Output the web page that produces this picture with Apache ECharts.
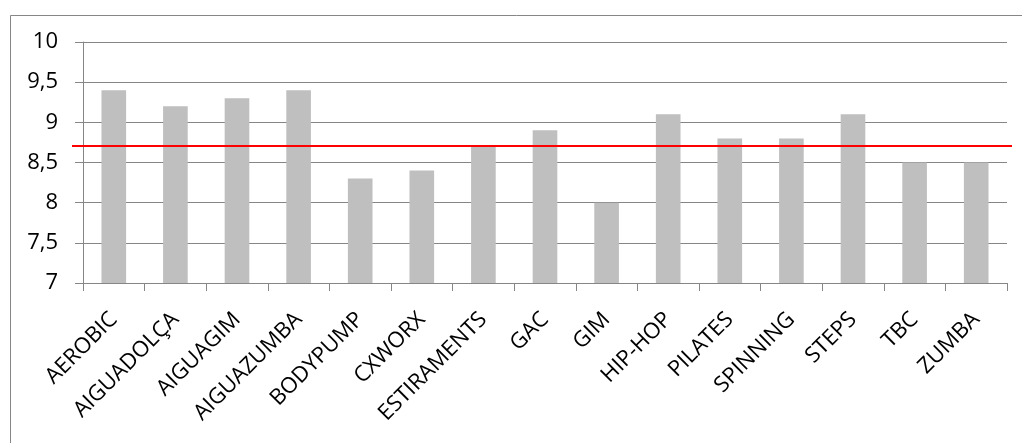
<!DOCTYPE html>
<html>
<head>
<meta charset="utf-8">
<title>Valoració per activitat</title>
<script src="https://cdn.jsdelivr.net/npm/echarts@6/dist/echarts.min.js"></script>
<style>
  html, body { margin: 0; padding: 0; background: #fff; }
  #chart { width: 1022px; height: 443px; }
</style>
</head>
<body>
<div id="chart"></div>
<script>
// Activities and their average ratings
const categories = ['AEROBIC', 'AIGUADOLÇA', 'AIGUAGIM', 'AIGUAZUMBA', 'BODYPUMP', 'CXWORX',
  'ESTIRAMENTS', 'GAC', 'GIM', 'HIP-HOP', 'PILATES', 'SPINNING', 'STEPS', 'TBC', 'ZUMBA'];
const ratings = [9.4, 9.2, 9.3, 9.4, 8.3, 8.4, 8.7, 8.9, 8.0, 9.1, 8.8, 8.8, 9.1, 8.5, 8.5];
// Overall average drawn as a reference line
const overallAverage = 8.71;
// Value axis range
const yMin = 7, yMax = 10, yStep = 0.5;

const FONT = '"Open Sans", "Noto Sans", sans-serif';
const GRID_GRAY = '#868686';

const chart = echarts.init(document.getElementById('chart'), null, { renderer: 'canvas' });

chart.setOption({
  animation: false,
  backgroundColor: '#fff',
  graphic: [{
    type: 'rect',
    left: 8, top: 13,
    shape: { width: 1100, height: 500 },
    style: { fill: 'none', stroke: GRID_GRAY, lineWidth: 1 },
    silent: true, z: 0
  }],
  grid: [
    { left: 83, right: 15, top: 42, bottom: 160 },
    // slightly wider grid carrying the average line
    { left: 72, right: 10, top: 42, bottom: 160 }
  ],
  xAxis: [{
    type: 'category',
    gridIndex: 0,
    data: categories,
    axisLine: { lineStyle: { color: GRID_GRAY, width: 1 } },
    axisTick: { show: true, length: 8, lineStyle: { color: GRID_GRAY }, alignWithLabel: false },
    axisLabel: {
      rotate: 45, interval: 0, margin: 33,
      color: '#000', fontFamily: FONT, fontSize: 22
    }
  }, {
    type: 'value', gridIndex: 1, min: 0, max: 1, show: false
  }],
  yAxis: [{
    type: 'value',
    gridIndex: 0,
    min: yMin, max: yMax, interval: yStep,
    axisLine: { show: true, lineStyle: { color: GRID_GRAY, width: 1 } },
    axisTick: { show: true, length: 8, inside: false, lineStyle: { color: GRID_GRAY } },
    splitLine: { show: true, lineStyle: { color: GRID_GRAY, width: 1 } },
    axisLabel: {
      margin: 25,
      color: '#000', fontFamily: FONT, fontSize: 22,
      formatter: v => String(v).replace('.', ',')
    }
  }, {
    type: 'value', gridIndex: 1, min: yMin, max: yMax, show: false
  }],
  series: [{
    type: 'bar',
    xAxisIndex: 0, yAxisIndex: 0,
    data: ratings,
    barWidth: '40%',
    itemStyle: { color: '#BFBFBF' },
    z: 2
  }, {
    type: 'line',
    xAxisIndex: 1, yAxisIndex: 1,
    data: [],
    markLine: {
      silent: true,
      symbol: 'none',
      label: { show: false },
      lineStyle: { color: '#FF0000', width: 2, type: 'solid' },
      data: [{ yAxis: overallAverage }]
    },
    z: 5
  }]
});
</script>
</body>
</html>
